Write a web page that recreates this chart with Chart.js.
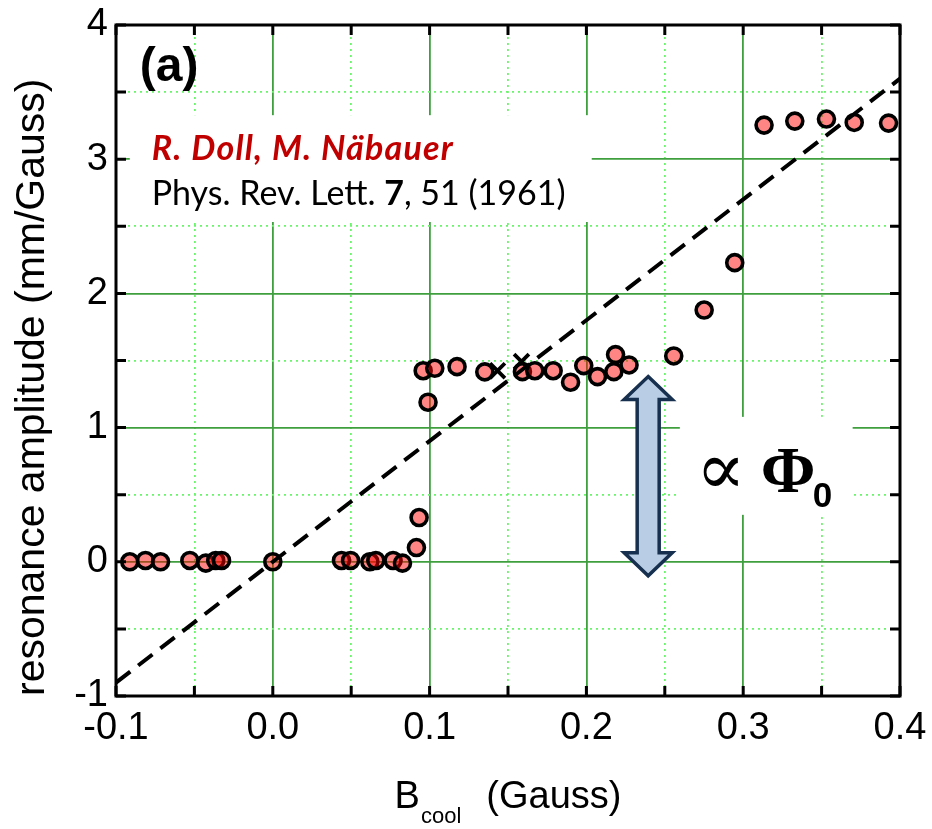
<!DOCTYPE html>
<html><head><meta charset="utf-8">
<script src="https://cdn.jsdelivr.net/npm/chart.js@4.4.1/dist/chart.umd.min.js"></script>
<style>html,body{margin:0;padding:0;background:#fff}#wrap{width:932px;height:829px}</style>
</head><body><div id="wrap"><canvas id="c" width="932" height="829"></canvas></div>
<script>
// ---- data ----
const bCool = [-0.0912,-0.0812,-0.0716,-0.0529,-0.0427,-0.0364,-0.0327,0.0000,
  0.0438,0.0496,0.0619,0.0657,0.0767,0.0827,0.0916,0.0933,0.0990,0.0959,0.1033,
  0.1175,0.1352,0.1592,0.1671,0.1788,0.1899,0.1983,0.2071,0.2175,0.2186,0.2272,
  0.2557,0.2751,0.2946,0.3133,0.3329,0.3531,0.3708,0.3927];
const amplitude = [0.00,0.01,0.00,0.01,-0.01,0.01,0.01,0.00,
  0.01,0.01,0.00,0.01,0.01,-0.01,0.106,0.33,1.189,1.424,1.442,
  1.454,1.415,1.417,1.424,1.424,1.338,1.462,1.380,1.417,1.544,1.467,
  1.534,1.876,2.229,3.254,3.284,3.299,3.274,3.269];
const crossB = [0.1433, 0.1586];
const crossAmp = [1.424, 1.492];
const fitB = [-0.1, 0.4];
const fitAmp = [-0.9, 3.6];
const xTicks = [-0.1, 0.0, 0.1, 0.2, 0.3, 0.4];
const xTickLabels = ['-0.1','0.0','0.1','0.2','0.3','0.4'];
const yTicks = [-1, 0, 1, 2, 3, 4];
const yTickLabels = ['-1','0','1','2','3','4'];
const xMinor = [-0.05, 0.05, 0.15, 0.25, 0.35];
const yMinor = [-0.5, 0.5, 1.5, 2.5, 3.5];

// ---- annotations (data coordinates) ----
const citeBox = {x0:-0.0912, x1:0.2034, y0:2.532, y1:3.328};
const citeLine1 = {x:-0.0772, y:2.993};
const citeLine2 = {x:-0.0772, y:2.658};
const phiBox = {x0:0.2596, x1:0.3698, y0:0.35, y1:1.08};
const phiAnchor = {x:0.2736, y:0.521};
const arrowSpec = {x:0.2394, y0:-0.104, y1:1.380};
const panelLabel = {x:-0.0848, y:3.585};

const pts = bCool.map((b,i)=>({x:b, y:amplitude[i]}));
const crosses = crossB.map((b,i)=>({x:b, y:crossAmp[i]}));
const fit = fitB.map((b,i)=>({x:b, y:fitAmp[i]}));

const deco = {
  id:'deco',
  beforeDatasetsDraw(chart){
    const ctx = chart.ctx, xs = chart.scales.x, ys = chart.scales.y;
    const X = v=>xs.getPixelForValue(v), Y = v=>ys.getPixelForValue(v);
    ctx.save();
    ctx.fillStyle = '#fff';
    ctx.fillRect(X(citeBox.x0), Y(citeBox.y1), X(citeBox.x1)-X(citeBox.x0), Y(citeBox.y0)-Y(citeBox.y1));
    ctx.fillRect(X(phiBox.x0), Y(phiBox.y1), X(phiBox.x1)-X(phiBox.x0), Y(phiBox.y0)-Y(phiBox.y1));
    // double arrow
    const cx = X(arrowSpec.x), top = Y(arrowSpec.y1), bot = Y(arrowSpec.y0);
    const hw = 24, sw = 11, hl = 23;
    ctx.beginPath();
    ctx.moveTo(cx, top);
    ctx.lineTo(cx+hw, top+hl);
    ctx.lineTo(cx+sw, top+hl);
    ctx.lineTo(cx+sw, bot-hl);
    ctx.lineTo(cx+hw, bot-hl);
    ctx.lineTo(cx, bot);
    ctx.lineTo(cx-hw, bot-hl);
    ctx.lineTo(cx-sw, bot-hl);
    ctx.lineTo(cx-sw, top+hl);
    ctx.lineTo(cx-hw, top+hl);
    ctx.closePath();
    ctx.fillStyle = '#b9cde5';
    ctx.fill();
    ctx.lineWidth = 3.5;
    ctx.lineJoin = 'miter';
    ctx.strokeStyle = '#17304f';
    ctx.stroke();
    ctx.restore();
  },
  afterDraw(chart){
    const ctx = chart.ctx, xs = chart.scales.x, ys = chart.scales.y;
    const X = v=>xs.getPixelForValue(v), Y = v=>ys.getPixelForValue(v);
    const a = chart.chartArea;
    ctx.save();
    // frame
    ctx.strokeStyle = '#000';
    ctx.lineWidth = 3;
    ctx.strokeRect(a.left, a.top, a.right-a.left, a.bottom-a.top);
    // inward ticks
    const tl = 10;
    ctx.beginPath();
    xTicks.concat(xMinor).forEach(v=>{
      const px = X(v);
      ctx.moveTo(px, a.bottom); ctx.lineTo(px, a.bottom-tl);
      ctx.moveTo(px, a.top); ctx.lineTo(px, a.top+tl);
    });
    yTicks.concat(yMinor).forEach(v=>{
      const py = Y(v);
      ctx.moveTo(a.left, py); ctx.lineTo(a.left+tl, py);
      ctx.moveTo(a.right, py); ctx.lineTo(a.right-tl, py);
    });
    ctx.stroke();
    // panel label
    ctx.fillStyle = '#000';
    ctx.textBaseline = 'alphabetic';
    ctx.textAlign = 'left';
    ctx.font = 'bold 48px "Liberation Sans", Arial, sans-serif';
    ctx.fillText('(a)', X(panelLabel.x), Y(panelLabel.y));
    // citation
    ctx.font = 'italic bold 34px Lato, "Open Sans", sans-serif';
    ctx.letterSpacing = '1.2px';
    ctx.fillStyle = '#c00000';
    ctx.fillText('R. Doll, M. Näbauer', X(citeLine1.x), Y(citeLine1.y));
    ctx.letterSpacing = '0px';
    ctx.fillStyle = '#000';
    let px = X(citeLine2.x); const py = Y(citeLine2.y);
    ctx.font = '34px Lato, "Open Sans", sans-serif';
    ctx.fillText('Phys. Rev. Lett. ', px, py); px += ctx.measureText('Phys. Rev. Lett. ').width;
    ctx.font = 'bold 34px Lato, "Open Sans", sans-serif';
    ctx.fillText('7', px, py); px += ctx.measureText('7').width;
    ctx.font = '34px Lato, "Open Sans", sans-serif';
    ctx.fillText(', 51 (1961)', px, py);
    // proportional to flux quantum
    const ax = X(phiAnchor.x), ay = Y(phiAnchor.y);
    ctx.font = '74px "DejaVu Serif", "Liberation Serif", serif';
    ctx.fillText('∝', ax-6, ay+2);
    ctx.font = 'bold 66px "Liberation Serif", "Times New Roman", serif';
    ctx.fillText('Φ', ax+59, ay);
    ctx.font = 'bold 35px "Liberation Sans", Arial, sans-serif';
    ctx.fillText('0', ax+111, ay+15);
    // x axis title with subscript
    ctx.fillStyle = '#000';
    const f1 = '38px "Liberation Sans", Arial, sans-serif', f2 = '22px "Liberation Sans", Arial, sans-serif';
    ctx.font = f1; const wB = ctx.measureText('B').width; const wG = ctx.measureText('(Gauss)').width;
    ctx.font = f2; const wc = ctx.measureText('cool').width;
    const gap = 26;
    const total = wB + wc + gap + wG;
    let tx = (a.left + a.right)/2 - total/2;
    const tb = 808;
    ctx.font = f1; ctx.fillText('B', tx, tb); tx += wB + 1;
    ctx.font = f2; ctx.fillText('cool', tx, tb+15); tx += wc + gap - 1;
    ctx.font = f1; ctx.fillText('(Gauss)', tx, tb);
    ctx.restore();
  }
};

Chart.defaults.font.family = '"Liberation Sans", Arial, sans-serif';
Chart.defaults.color = '#000';

const noPadX = h => s => { s.height = h; s.paddingLeft = 0; s.paddingRight = 0; s.paddingTop = 0; s.paddingBottom = 0; };
const noPadY = w => s => { s.width = w; s.paddingLeft = 0; s.paddingRight = 0; s.paddingTop = 0; s.paddingBottom = 0; };

new Chart(document.getElementById('c'), {
  type: 'scatter',
  data: {
    datasets: [
      {label:'fit', type:'line', data: fit, borderColor:'#000', borderWidth:4, borderDash:[18,10],
       pointRadius:0, fill:false, order:0},
      {label:'crosses', data: crosses, pointStyle:'crossRot', pointRadius:10.5, borderColor:'#000',
       pointBorderWidth:3.8, order:1},
      {label:'data', data: pts, pointStyle:'circle', pointRadius:8, backgroundColor:'rgba(255,0,0,0.48)',
       borderColor:'#000', pointBorderWidth:3.6, order:2}
    ]
  },
  options: {
    responsive:false, animation:false, devicePixelRatio:1,
    layout:{padding:{left:0, right:32, top:25, bottom:0}},
    plugins:{legend:{display:false}, tooltip:{enabled:false}},
    scales:{
      x:{type:'linear', position:'bottom', min:-0.1, max:0.4,
        afterBuildTicks: s=>{ s.ticks = xTicks.map(v=>({value:v})); },
        afterFit: noPadX(133),
        ticks:{callback:(v,i)=>xTickLabels[i], font:{size:38}, padding:10, maxRotation:0, autoSkip:false},
        grid:{color:'#3f9f3f', lineWidth:1.8, drawTicks:false},
        border:{display:false}
      },
      x2:{type:'linear', position:'bottom', min:-0.1, max:0.4,
        afterBuildTicks: s=>{ s.ticks = xMinor.map(v=>({value:v})); },
        afterFit: noPadX(0),
        ticks:{display:false},
        grid:{color:'#6cf56c', lineWidth:1.8, drawTicks:false},
        border:{display:false, dash:[2,4]}
      },
      y:{type:'linear', position:'left', min:-1, max:4,
        afterBuildTicks: s=>{ s.ticks = yTicks.map(v=>({value:v})); },
        afterFit: noPadY(116),
        ticks:{callback:(v,i)=>yTickLabels[i], font:{size:38}, padding:8},
        grid:{color:'#3f9f3f', lineWidth:1.8, drawTicks:false},
        border:{display:false},
        title:{display:true, text:'resonance amplitude (mm/Gauss)', align:'start',
          font:{size:41}, padding:{top:8, bottom:0}}
      },
      y2:{type:'linear', position:'left', min:-1, max:4,
        afterBuildTicks: s=>{ s.ticks = yMinor.map(v=>({value:v})); },
        afterFit: noPadY(0),
        ticks:{display:false},
        grid:{color:'#6cf56c', lineWidth:1.8, drawTicks:false},
        border:{display:false, dash:[2,4]}
      }
    }
  },
  plugins:[deco]
});
</script>
</body></html>
